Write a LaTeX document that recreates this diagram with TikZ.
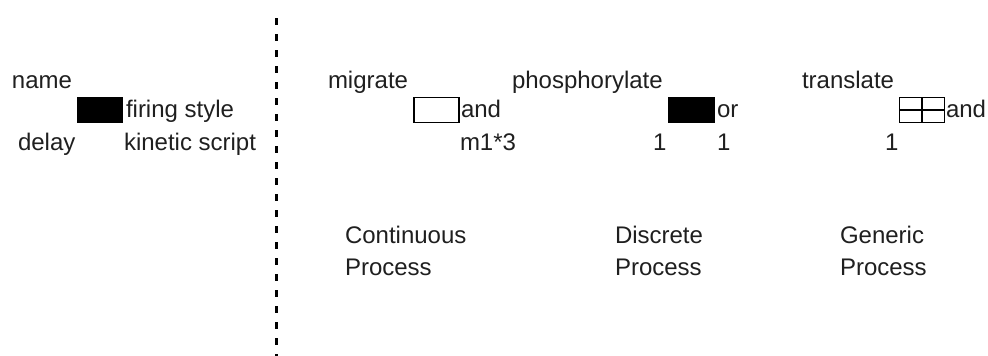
\documentclass[tikz,border=0pt]{standalone}
\usepackage{fontspec}
\setmainfont{Liberation Sans}
\begin{document}
\begin{tikzpicture}[x=1pt,y=-1pt,
  lbl/.style={anchor=base west,inner sep=0pt,outer sep=0pt,font=\fontsize{24}{32}\selectfont,text=black!88},
  tbox/.style={draw=black,line width=1.5pt,minimum width=45pt,minimum height=25pt,inner sep=0pt,outer sep=0pt},
  tfill/.style={tbox,fill=black},
  topen/.style={tbox,fill=white},
  sep/.style={line width=3pt,dash pattern=on 7pt off 9pt}]
\useasboundingbox (0,0) rectangle (988,356);
% legend
\node[lbl] (name) at (12,88) {name};
\node[tfill] (legbox) at (100,110) {};
\node[lbl] (firing) at (126,117) {firing style};
\node[lbl] (delay) at (18,150) {delay};
\node[lbl] (kin) at (124,150) {kinetic script};
% separator
\coordinate (sepT) at (276,18);
\coordinate (sepB) at (276,356);
\draw[sep] (sepT) -- (sepB);
% continuous
\node[lbl] (migrate) at (328,88) {migrate};
\node[topen] (cbox) at (436.5,110) {};
\node[lbl] (cand) at (461,117) {and};
\node[lbl] (cscript) at (460,150) {m1*3};
% discrete
\node[lbl] (phos) at (512,88) {phosphorylate};
\node[tfill] (dbox) at (691.5,110) {};
\node[lbl] (dor) at (717,117) {or};
\node[lbl] (ddelay) at (653,150) {1};
\node[lbl] (dscript) at (717,150) {1};
% generic
\node[lbl] (trans) at (802,88) {translate};
\node[topen] (gbox) at (922,110) {};
\draw[line width=1.5pt] (gbox.west) -- (gbox.east) (gbox.north) -- (gbox.south);
\node[lbl] (gand) at (946,117) {and};
\node[lbl] (gscript) at (885,150) {1};
% captions
\node[lbl] (cont1) at (345,243) {Continuous};
\node[lbl] (cont2) at (345,275) {Process};
\node[lbl] (disc1) at (615,243) {Discrete};
\node[lbl] (disc2) at (615,275) {Process};
\node[lbl] (gen1) at (840,243) {Generic};
\node[lbl] (gen2) at (840,275) {Process};
\end{tikzpicture}
\end{document}
